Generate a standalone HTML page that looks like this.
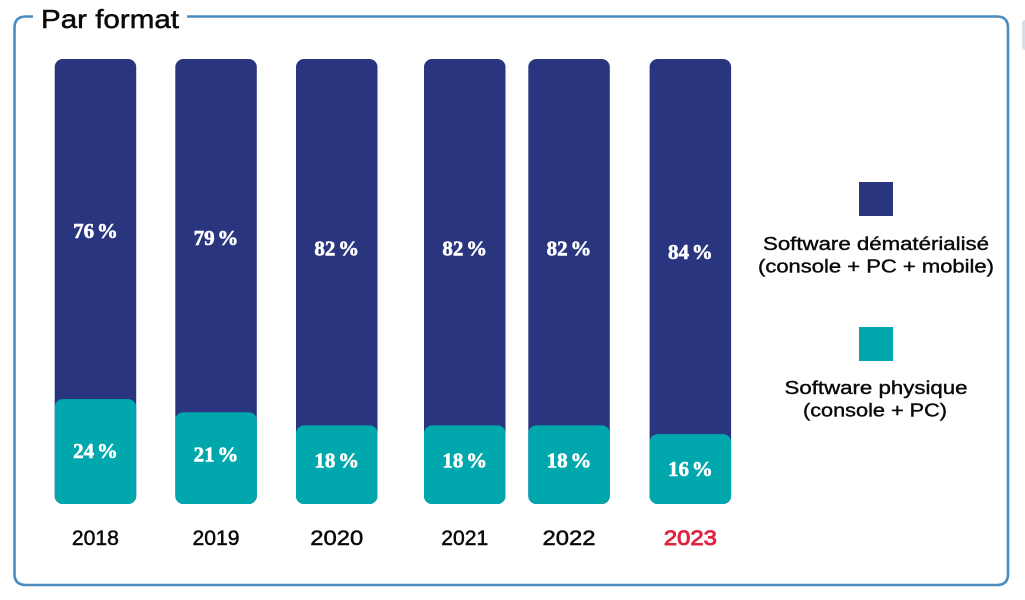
<!DOCTYPE html>
<html lang="fr">
<head>
<meta charset="utf-8">
<title>Par format</title>
<style>
  html, body { margin: 0; padding: 0; background: #fff; width: 1025px; height: 600px; overflow: hidden; }
  svg { display: block; }
  .sans { font-family: "Liberation Sans", "DejaVu Sans", sans-serif; fill: #0a0a0a; }
  .pct { font-family: "Liberation Serif", serif; font-weight: 700; fill: #fff; font-size: 21px; word-spacing: -2.5px; stroke: #fff; stroke-width: 0.6px; text-anchor: middle; }
  .year { font-size: 21px; stroke: #0a0a0a; stroke-width: 0.5px; text-anchor: middle; }
  .legend-text { font-size: 18.5px; stroke: #0a0a0a; stroke-width: 0.4px; text-anchor: middle; }
</style>
</head>
<body>
<svg id="chart" xmlns="http://www.w3.org/2000/svg" width="1025" height="600" viewBox="0 0 1025 600">
  <path d="M33 16.5 H26 Q14.5 16.5 14.5 28 V574 Q14.5 585 26 585 H997 Q1008 585 1008 574 V28 Q1008 16.5 997 16.5 H187" fill="none" stroke="#4a8cc0" stroke-width="2.6"/>
  <rect x="1022" y="20" width="12" height="30" rx="3" fill="#d6e0e9"/>
  <text class="sans" x="41" y="28" font-size="26" textLength="138" lengthAdjust="spacingAndGlyphs" stroke="#0a0a0a" stroke-width="0.5">Par format</text>
  <g id="bars"></g>
  <rect x="859" y="182" width="34" height="34" fill="#2a3580"/>
  <text class="sans legend-text" x="876" y="250" textLength="226" lengthAdjust="spacingAndGlyphs">Software dématérialisé</text>
  <text class="sans legend-text" x="876" y="272.5" textLength="236" lengthAdjust="spacingAndGlyphs">(console + PC + mobile)</text>
  <rect x="859" y="327" width="34" height="34" fill="#00a8ae"/>
  <text class="sans legend-text" x="876" y="394" textLength="183" lengthAdjust="spacingAndGlyphs">Software physique</text>
  <text class="sans legend-text" x="875" y="416.5" textLength="144" lengthAdjust="spacingAndGlyphs">(console + PC)</text>
</svg>
<script>
const categories = ["2018", "2019", "2020", "2021", "2022", "2023"];
const digitalValues = [76, 79, 82, 82, 82, 84];
const physicalValues = [24, 21, 18, 18, 18, 16];
const highlightedCategory = "2023";

const NS = "http://www.w3.org/2000/svg";
const barsGroup = document.getElementById("bars");
const plotTop = 59, plotBottom = 504, barWidth = 81.5, barRadius = 8;
const unitHeight = 4.37;

// Axis functions: the columns sit on irregular slots in the source layout.
function xAxis(i) {
  const slotLefts = [54.7, 175.3, 296, 424, 528.3, 649.6];
  return slotLefts[i];
}
function yAxis(percent) {
  return plotBottom - percent * unitHeight;
}
function digitalLabelCentre(i) {
  const nudge = [2, 2.5, 6.5, 6.5, 6.5, 5.5];
  return (plotTop + yAxis(physicalValues[i])) / 2 + nudge[i];
}
function physicalLabelCentre(i) {
  const nudge = [-0.5, -3.5, -4, -4, -4, 0];
  return (plotBottom + yAxis(physicalValues[i])) / 2 + nudge[i];
}
function yearWidth(label) {
  return 53 - 6 * (label.split("1").length - 1);
}

categories.forEach(function (year, i) {
  const left = xAxis(i);
  const centre = left + barWidth / 2;

  const digitalBar = document.createElementNS(NS, "rect");
  
  
  digitalBar.setAttribute("x", left);
  digitalBar.setAttribute("y", plotTop);
  digitalBar.setAttribute("width", barWidth);
  digitalBar.setAttribute("height", plotBottom - plotTop);
  digitalBar.setAttribute("rx", barRadius);
  digitalBar.setAttribute("fill", "#2a3580");
  barsGroup.appendChild(digitalBar);

  const physicalBar = document.createElementNS(NS, "rect");
  
  
  physicalBar.setAttribute("x", left);
  physicalBar.setAttribute("y", yAxis(physicalValues[i]));
  physicalBar.setAttribute("width", barWidth);
  physicalBar.setAttribute("height", plotBottom - yAxis(physicalValues[i]));
  physicalBar.setAttribute("rx", barRadius);
  physicalBar.setAttribute("fill", "#00a8ae");
  barsGroup.appendChild(physicalBar);

  const digitalLabel = document.createElementNS(NS, "text");
  
  
  digitalLabel.setAttribute("class", "pct");
  digitalLabel.setAttribute("x", centre);
  digitalLabel.setAttribute("y", digitalLabelCentre(i) + 7);
  digitalLabel.textContent = digitalValues[i] + " %";
  barsGroup.appendChild(digitalLabel);

  const physicalLabel = document.createElementNS(NS, "text");
  
  
  physicalLabel.setAttribute("class", "pct");
  physicalLabel.setAttribute("x", centre);
  physicalLabel.setAttribute("y", physicalLabelCentre(i) + 7);
  physicalLabel.textContent = physicalValues[i] + " %";
  barsGroup.appendChild(physicalLabel);

  const yearLabel = document.createElementNS(NS, "text");
  
  
  yearLabel.setAttribute("class", "sans year");
  yearLabel.setAttribute("x", centre);
  yearLabel.setAttribute("y", 545);
  yearLabel.setAttribute("textLength", yearWidth(year));
  yearLabel.setAttribute("lengthAdjust", "spacingAndGlyphs");
  if (year === highlightedCategory) {
    yearLabel.style.fill = "#e0243f";
    yearLabel.style.stroke = "#e0243f";
    yearLabel.style.strokeWidth = "0.9px";
  }
  yearLabel.textContent = year;
  barsGroup.appendChild(yearLabel);
});
</script>
</body>
</html>
